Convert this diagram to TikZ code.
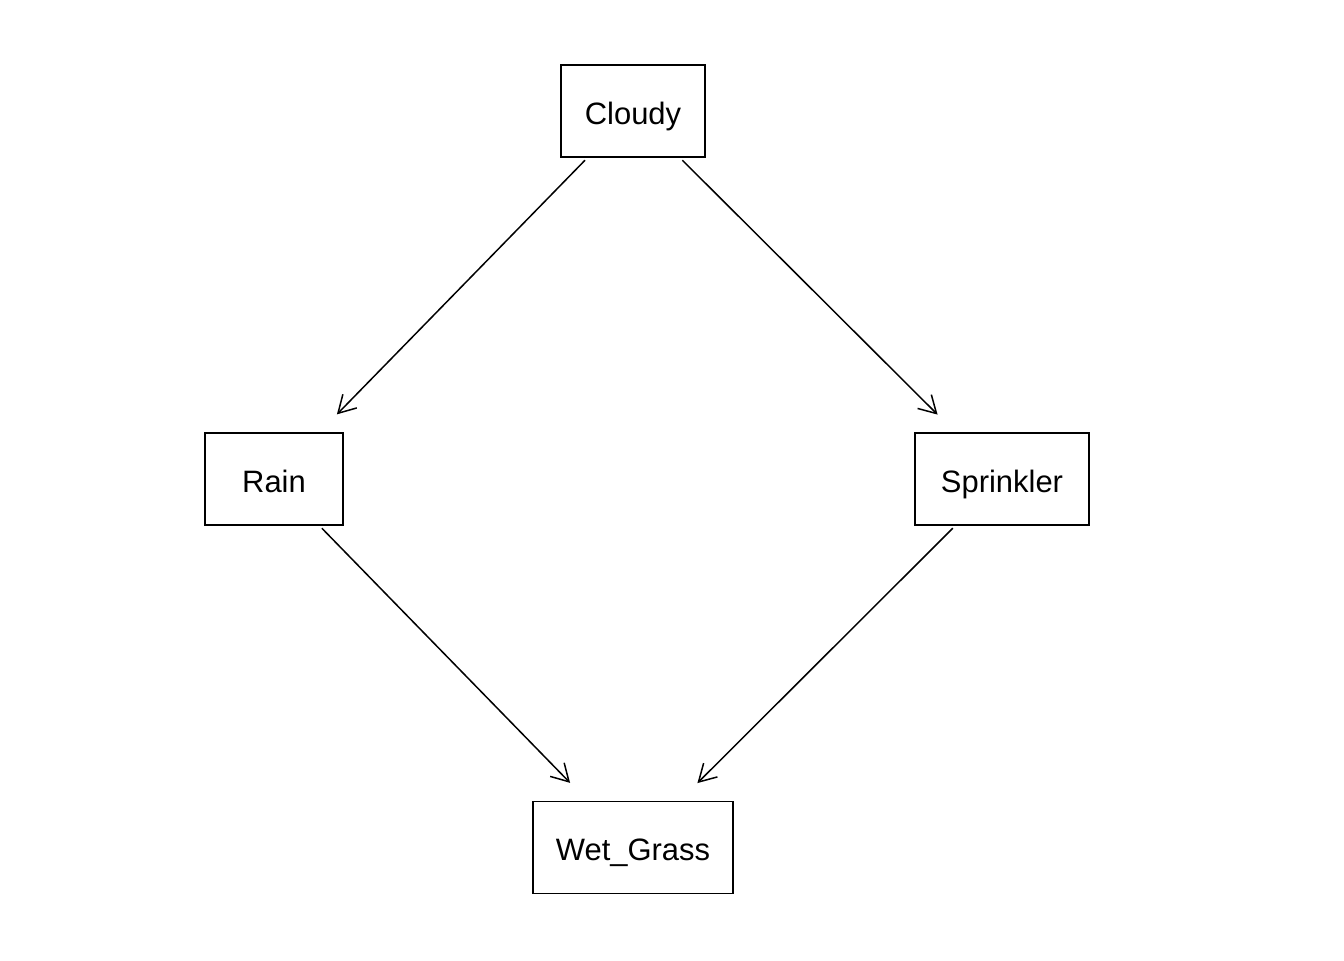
\documentclass[tikz,border=0pt]{standalone}
\usepackage{fontspec}
\setmainfont{Liberation Sans}
\usetikzlibrary{arrows.meta, positioning}

\begin{document}
\begin{tikzpicture}[
  varbox/.style={draw, line width=0.85pt, minimum height=1.84cm, inner sep=0pt, text height=15.1pt, text depth=0pt, font=\fontsize{17.6}{21}\selectfont},
  edgearrow/.style={line width=0.85pt, -{Straight Barb[length=3.4mm, width=3.9mm]}, shorten <=2pt, shorten >=0.5cm}
]
  \useasboundingbox (0, 0) rectangle (26.88, 19.2);

  % Variables
  \node[varbox, minimum width=2.88cm] (cloudy) at (12.66, 16.98) {Cloudy};
  \node[varbox, minimum width=2.76cm] (rain) at (5.48, 9.62) {Rain};
  \node[varbox, minimum width=3.48cm] (sprinkler) at (20.04, 9.62) {Sprinkler};
  \node[varbox, minimum width=4.0cm] (wetgrass) at (12.66, 2.25) {Wet\_Grass};

  % Dependencies
  \draw[edgearrow] (cloudy) -- (rain);
  \draw[edgearrow] (cloudy) -- (sprinkler);
  \draw[edgearrow] (rain) -- (wetgrass);
  \draw[edgearrow] (sprinkler) -- (wetgrass);
\end{tikzpicture}
\end{document}
